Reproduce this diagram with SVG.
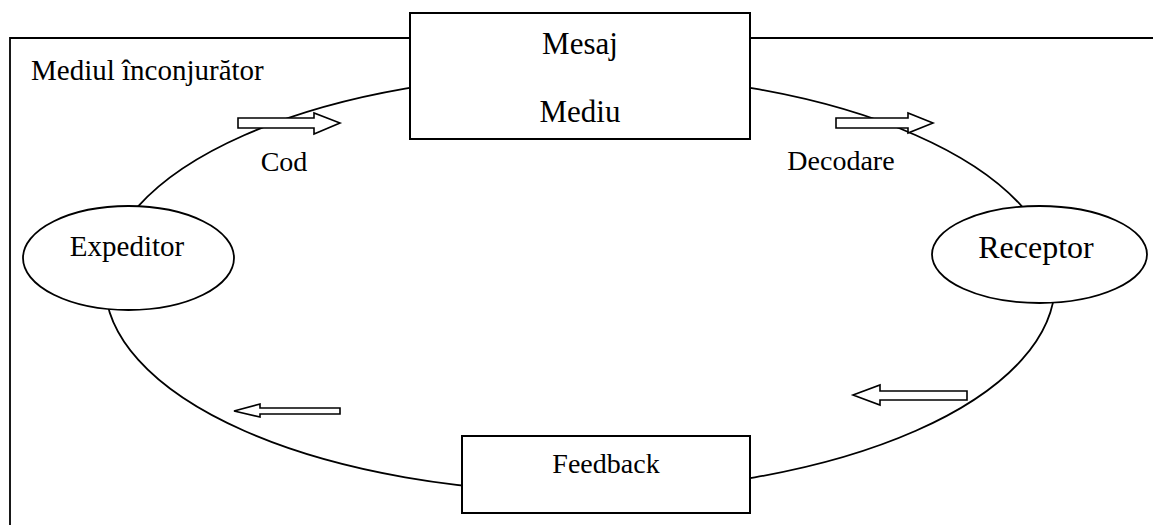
<svg xmlns="http://www.w3.org/2000/svg" width="1153" height="525" viewBox="0 0 1153 525">
<style>
.t{font-family:"Liberation Serif","Times New Roman",serif;fill:#000}
.box{fill:#fff;stroke:#000;stroke-width:2}
.ell{fill:#fff;stroke:#000;stroke-width:1.8}
.arr{fill:#fff;stroke:#000;stroke-width:1.6;stroke-linejoin:miter}
.line{fill:none;stroke:#000;stroke-width:1.8}
</style>
<rect width="1153" height="525" fill="#fff"/>
<g id="environment">
<path class="line" d="M10,525 V38 H1153" stroke-width="2.2"/>
<text class="t" x="31" y="80" font-size="29">Mediul înconjurător</text>
</g>
<g id="connectors">
<ellipse class="line" cx="580" cy="283" rx="475" ry="209"/>
</g>
<g id="mesaj">
<rect class="box" x="410" y="13" width="340" height="126"/>
<text class="t" x="580" y="54" font-size="31" text-anchor="middle">Mesaj</text>
<text class="t" x="580" y="122" font-size="31" text-anchor="middle">Mediu</text>
</g>
<g id="expeditor">
<ellipse class="ell" cx="128.5" cy="258" rx="105.5" ry="52"/>
<text class="t" x="127" y="256" font-size="29" text-anchor="middle">Expeditor</text>
</g>
<g id="receptor">
<ellipse class="ell" cx="1039.5" cy="254.5" rx="107.5" ry="48.5"/>
<text class="t" x="1036" y="258" font-size="32" text-anchor="middle">Receptor</text>
</g>
<g id="feedback">
<rect class="box" x="462" y="436" width="288" height="77"/>
<text class="t" x="606" y="473" font-size="28" text-anchor="middle">Feedback</text>
</g>
<g id="arrow-cod">
<polygon class="arr" points="238,118 314,118 314,113 340,123 314,134 314,128 238,128"/>
<text class="t" x="284" y="171" font-size="28" text-anchor="middle">Cod</text>
</g>
<g id="arrow-decodare">
<polygon class="arr" points="836,118 908,118 908,113 933,123 908,133 908,128 836,128"/>
<text class="t" x="841" y="170" font-size="28" text-anchor="middle">Decodare</text>
</g>
<g id="arrow-feedback-right">
<polygon class="arr" points="967,391 880,391 880,385 853,395 880,405 880,400 967,400"/>
</g>
<g id="arrow-feedback-left">
<polygon class="arr" points="340,408 260,408 260,404 234,411 260,417 260,414 340,414"/>
</g>
</svg>
